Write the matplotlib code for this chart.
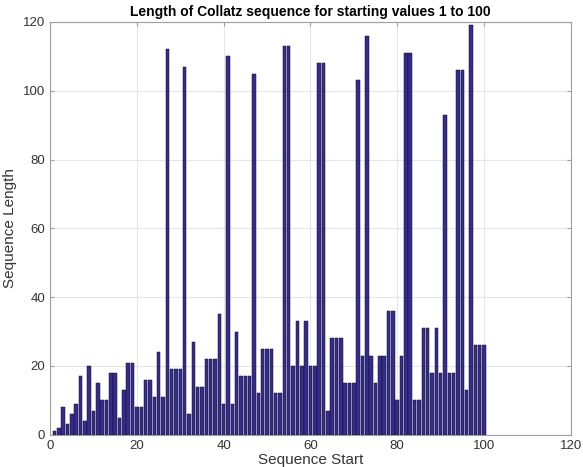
import numpy as np
import matplotlib
matplotlib.use("Agg")
import matplotlib.pyplot as plt

plt.rcParams['font.family'] = ['Liberation Sans', 'DejaVu Sans']

# starting values and the Collatz sequence length for each
starts = list(range(1, 101))
lengths = [1, 2, 8, 3, 6, 9, 17, 4, 20, 7, 15, 10, 10, 18, 18, 5, 13, 21, 21, 8,
           8, 16, 16, 11, 24, 11, 112, 19, 19, 19, 107, 6, 27, 14, 14, 22, 22, 22, 35, 9,
           110, 9, 30, 17, 17, 17, 105, 12, 25, 25, 25, 12, 12, 113, 113, 20, 33, 20, 33, 20,
           20, 108, 108, 7, 28, 28, 28, 15, 15, 15, 103, 23, 116, 23, 15, 23, 23, 36, 36, 10,
           23, 111, 111, 10, 10, 31, 31, 18, 31, 18, 93, 18, 18, 106, 106, 13, 119, 26, 26, 26]

fig = plt.figure(figsize=(5.83, 4.67), dpi=100)
ax = fig.add_axes([0.086, 0.069, 0.893, 0.884])

ax.bar(starts, lengths, width=0.8, color='#362b8e', edgecolor='#111122', linewidth=0.35, zorder=3)

ax.set_xlim(0, 120)
ax.set_ylim(0, 120)
ax.set_xticks(np.arange(0, 121, 20))
ax.set_yticks(np.arange(0, 121, 20))
ax.grid(True, color='#e6e6e6', linewidth=0.8, zorder=0)
for s in ax.spines.values():
    s.set_color('#a0a0a0')
    s.set_linewidth(0.8)
ax.tick_params(direction='in', length=3, color='#a0a0a0', labelsize=9.5, labelcolor='#333333',
               top=True, right=True)

ax.set_title('Length of Collatz sequence for starting values 1 to 100', fontsize=10,
             fontweight='bold', pad=4)
ax.set_xlabel('Sequence Start', fontsize=11, color='#333333', labelpad=1)
ax.set_ylabel('Sequence Length', fontsize=11, color='#333333', labelpad=4)

fig.savefig('out.png', dpi=100)
